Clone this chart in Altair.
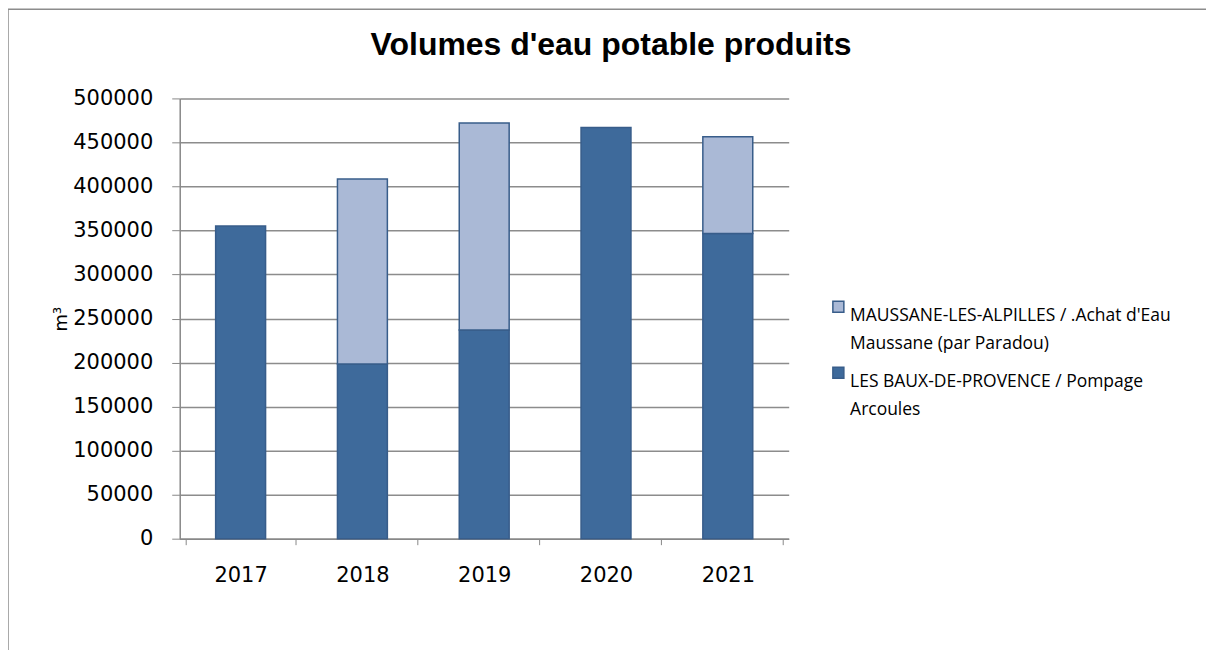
import altair as alt
import pandas as pd

years = ["2017", "2018", "2019", "2020", "2021"]
baux = [355000, 198500, 237000, 467000, 346500]
maussane = [0, 210000, 235000, 0, 110000]

s_light = "MAUSSANE-LES-ALPILLES / .Achat d'Eau\nMaussane (par Paradou)"
s_dark = "LES BAUX-DE-PROVENCE / Pompage\nArcoules"
title_text = "Volumes d'eau potable produits"

rows = []
for y, d, l in zip(years, baux, maussane):
    rows.append({"year": y, "serie": s_dark, "value": d, "ord": 0})
    rows.append({"year": y, "serie": s_light, "value": l, "ord": 1})
df = pd.DataFrame(rows)
df = df[df["value"] > 0]

bars = alt.Chart(df).mark_bar(stroke="#385d8a", strokeWidth=1.5, size=50).encode(
    x=alt.X("year:N", title=None, sort=years,
            axis=alt.Axis(labelAngle=0, labelFont="DejaVu Sans", labelFontSize=21,
                          labelColor="#000", labelPadding=20, tickBand="extent",
                          tickSize=6, tickColor="#888", domainColor="#888",
                          domainWidth=1.5, grid=False)),
    y=alt.Y("value:Q", title="m³", stack="zero",
            scale=alt.Scale(domain=[0, 500000]),
            axis=alt.Axis(values=list(range(0, 500001, 50000)), format="d",
                          labelFont="DejaVu Sans", labelFontSize=21, labelColor="#000",
                          labelPadding=19, tickSize=8, tickColor="#888",
                          domainColor="#888", domainWidth=1.5,
                          gridColor="#8c8c8c", gridWidth=1.5,
                          titleFont="DejaVu Sans", titleFontSize=18,
                          titleFontWeight="normal", titleColor="#000",
                          titlePadding=2)),
    color=alt.Color("serie:N",
                    scale=alt.Scale(domain=[s_light, s_dark],
                                    range=["#aab9d6", "#3e6a9b"]),
                    legend=alt.Legend(title=None, orient="none", legendX=651, legendY=200,
                                      labelExpr="split(datum.label, '\\n')",
                                      labelFont="Open Sans", labelFontSize=17.5,
                                      labelColor="#000", labelLimit=450,
                                      symbolType="square", symbolSize=121,
                                      symbolStrokeColor="#385d8a", symbolStrokeWidth=1.5,
                                      rowPadding=11, labelOffset=3)),
    order=alt.Order("ord:Q"),
)

frame = alt.Chart(pd.DataFrame({"k": [0]})).mark_rect(
    fillOpacity=0, stroke="#8c8c8c", strokeWidth=1.5).encode(
    x=alt.value(-172), x2=alt.value(1100), y=alt.value(-89.2), y2=alt.value(700))

title = alt.Chart(pd.DataFrame({"t": [title_text]})).mark_text(
    font="Liberation Sans", fontSize=32, fontWeight="bold", color="#000",
    align="center", baseline="alphabetic").encode(
    text="t:N", x=alt.value(432), y=alt.value(-43))

chart = alt.layer(frame, bars, title).properties(
    width=610, height=441,
    autosize=alt.AutoSizeParams(type="none"),
    padding={"left": 172, "top": 90, "right": 418, "bottom": 140},
).configure(style={"guide-label": {"lineHeight": 28}}
).configure_view(stroke=None).configure_legend(labelBaseline="top")

chart.save("out.html", embed_options={"renderer": "svg", "actions": False})
